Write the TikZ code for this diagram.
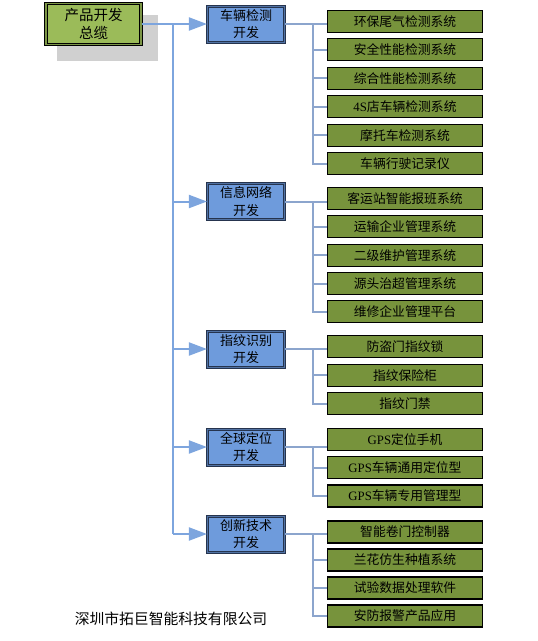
\documentclass[tikz,border=0pt]{standalone}
\usepackage{fontspec}
\setmainfont{Noto Sans CJK SC}
\newfontfamily\latinserif{Liberation Serif}
\usetikzlibrary{arrows.meta}
\definecolor{rootgreen}{RGB}{155,187,89}
\definecolor{leafgreen}{RGB}{119,147,60}
\definecolor{midblue}{RGB}{110,155,220}
\definecolor{edgeblue}{RGB}{38,52,78}
\definecolor{linkblue}{RGB}{125,165,222}
\definecolor{buslink}{RGB}{140,165,205}
\definecolor{shadowgray}{RGB}{208,208,208}
\begin{document}
\begin{tikzpicture}[x=1pt,y=-1pt,
  rootbox/.style={draw=black, double=rootgreen!80!black, double distance=1.2pt, line width=1.2pt, fill=rootgreen,
    minimum width=95pt, minimum height=41pt, inner sep=0pt, align=center,
    font=\fontsize{14.5}{18}\selectfont},
  midbox/.style={draw=edgeblue, double=midblue!60!edgeblue, double distance=0.8pt, line width=1.1pt, fill=midblue,
    minimum width=77pt, minimum height=36pt, inner sep=0pt, align=center,
    font=\fontsize{13}{17.5}\selectfont},
  leafbox/.style={draw=black, line width=1.1pt, fill=leafgreen, minimum width=155pt, minimum height=22pt,
    inner sep=0pt, font=\fontsize{12.8}{14}\selectfont, text=black},
  link/.style={draw=linkblue, line width=2pt, -{Triangle[length=18pt,width=13pt]}},
  trunkline/.style={draw=linkblue, line width=2pt},
  bus/.style={draw=buslink, line width=2pt},
]
\useasboundingbox (0,0) rectangle (538,641);
\coordinate (trunkx) at (173,0);
\coordinate (busx) at (313,0);

% root with shadow
\fill[shadowgray] (57,15) rectangle (158,61);
\node[rootbox] (root) at (93.5,24) {产品开发\\总缆};

% level-1 boxes
\node[midbox] (g1) at (246,24) {车辆检测\\开发};
\node[midbox] (g2) at (246,201.5) {信息网络\\开发};
\node[midbox] (g3) at (246,349) {指纹识别\\开发};
\node[midbox] (g4) at (246,447) {全球定位\\开发};
\node[midbox] (g5) at (246,534) {创新技术\\开发};

% trunk
\coordinate (t0) at (root.east -| trunkx);
\draw[trunkline] (t0) -- (g5.west -| trunkx);
\draw[link] (root.east) -- (g1.west);
\draw[link] (g2.west -| trunkx) -- (g2.west);
\draw[link] (g3.west -| trunkx) -- (g3.west);
\draw[link] (g4.west -| trunkx) -- (g4.west);
\draw[link] (g5.west -| trunkx) -- (g5.west);

% leaves
\node[leafbox] (a1) at (405,21.5) {环保尾气检测系统};
\node[leafbox] (a2) at (405,49.9) {安全性能检测系统};
\node[leafbox] (a3) at (405,78.3) {综合性能检测系统};
\node[leafbox] (a4) at (405,106.7) {{\latinserif 4S}店车辆检测系统};
\node[leafbox] (a5) at (405,135.1) {摩托车检测系统};
\node[leafbox] (a6) at (405,163.5) {车辆行驶记录仪};

\node[leafbox] (b1) at (405,198.5) {客运站智能报班系统};
\node[leafbox] (b2) at (405,226.9) {运输企业管理系统};
\node[leafbox] (b3) at (405,255.3) {二级维护管理系统};
\node[leafbox] (b4) at (405,283.7) {源头治超管理系统};
\node[leafbox] (b5) at (405,311.8) {维修企业管理平台};

\node[leafbox] (c1) at (405,346.8) {防盗门指纹锁};
\node[leafbox] (c2) at (405,375.2) {指纹保险柜};
\node[leafbox] (c3) at (405,403.6) {指纹门禁};

\node[leafbox] (d1) at (405,439.5) {{\latinserif GPS}定位手机};
\node[leafbox] (d2) at (405,467.8) {{\latinserif GPS}车辆通用定位型};
\node[leafbox] (d3) at (405,496) {{\latinserif GPS}车辆专用管理型};

\node[leafbox] (e1) at (405,532) {智能卷门控制器};
\node[leafbox] (e2) at (405,560) {兰花仿生种植系统};
\node[leafbox] (e3) at (405,588) {试验数据处理软件};
\node[leafbox] (e4) at (405,616) {安防报警产品应用};

% bus connectors
\draw[bus] (g1.east) -- (g1.east -| a1.west);
\draw[bus] (g1.east -| busx) |- (a6.west);
\foreach \n in {a2,a3,a4,a5} \draw[bus] (\n.west -| busx) -- (\n.west);

\draw[bus] (g2.east) -- (g2.east -| b1.west);
\draw[bus] (g2.east -| busx) |- (b5.west);
\foreach \n in {b2,b3,b4} \draw[bus] (\n.west -| busx) -- (\n.west);

\draw[bus] (g3.east) -- (g3.east -| c1.west);
\draw[bus] (g3.east -| busx) |- (c3.west);
\draw[bus] (c2.west -| busx) -- (c2.west);

\draw[bus] (g4.east) -- (g4.east -| d1.west);
\draw[bus] (g4.east -| busx) |- (d3.west);
\draw[bus] (d2.west -| busx) -- (d2.west);

\draw[bus] (g5.east) -- (g5.east -| e1.west);
\draw[bus] (g5.east -| busx) |- (e4.west);
\foreach \n in {e2,e3} \draw[bus] (\n.west -| busx) -- (\n.west);

% company name
\node[font=\fontsize{14.8}{16}\selectfont, inner sep=0pt] (company) at (171,619) {深圳市拓巨智能科技有限公司};
\end{tikzpicture}
\end{document}
